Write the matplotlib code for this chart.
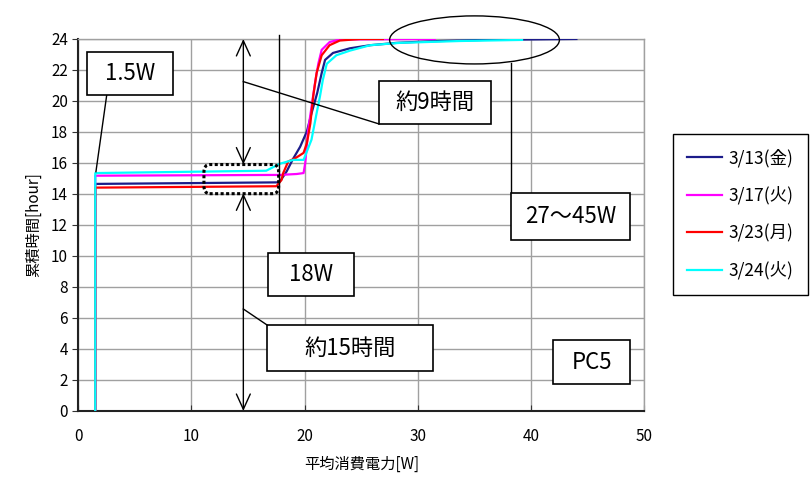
import matplotlib
matplotlib.use('Agg')
import matplotlib.pyplot as plt
from matplotlib.patches import Rectangle, Ellipse, FancyBboxPatch

plt.rcParams['font.family'] = ['Noto Sans CJK JP', 'DejaVu Sans']

#%% data: average power [W] vs cumulative hours, PC5

labels = ['3/13(金)', '3/17(火)', '3/23(月)', '3/24(火)']
colors = ['#1c1c8a', '#ff00ff', '#ff0000', '#00ffff']

w_0313 = [1.5, 1.5, 17.7, 17.9, 18.4, 19.0, 19.6, 20.2, 20.6, 21.1, 21.5, 21.8, 22.5, 24.0, 25.8, 28.1, 31.0, 35.8, 40.0, 44.0]
h_0313 = [0, 14.65, 14.75, 14.9, 15.45, 16.3, 17.05, 18.05, 19.2, 20.5, 21.8, 22.65, 23.1, 23.4, 23.6, 23.75, 23.85, 23.94, 23.97, 24.0]

w_0317 = [1.5, 1.5, 17.8, 19.3, 19.9, 20.05, 20.3, 20.6, 20.9, 21.2, 21.5, 22.2, 23.1, 31.5]
h_0317 = [0, 15.18, 15.23, 15.29, 15.35, 16.0, 18.1, 19.6, 21.1, 22.4, 23.3, 23.8, 23.97, 24.0]

w_0323 = [1.5, 1.5, 17.5, 17.95, 18.1, 18.55, 19.15, 19.9, 20.2, 20.5, 20.75, 21.05, 21.5, 22.2, 23.1, 24.9, 26.9]
h_0323 = [0, 14.41, 14.5, 14.9, 15.35, 16.1, 16.3, 16.65, 17.3, 18.55, 20.3, 21.8, 22.95, 23.6, 23.9, 24.0, 24.0]

w_0324 = [1.5, 1.5, 16.6, 17.8, 19.0, 19.9, 20.6, 21.05, 21.35, 21.6, 21.95, 22.8, 24.0, 25.8, 28.4, 33.7, 39.2]
h_0324 = [0, 15.35, 15.5, 15.95, 16.2, 16.2, 17.5, 19.2, 20.3, 21.35, 22.4, 22.95, 23.25, 23.6, 23.75, 23.87, 23.94]

series_w = [w_0313, w_0317, w_0323, w_0324]
series_h = [h_0313, h_0317, h_0323, h_0324]

#%% plot

fig = plt.figure(figsize=(8.12, 4.79), dpi=100)
ax = fig.add_axes([0.0964, 0.142, 0.6971, 0.7766])

for w, h, c, lab in zip(series_w, series_h, colors, labels):
    ax.plot(w, h, color=c, lw=1.6, label=lab, zorder=3)

ax.set_xlim(0, 50)
ax.set_ylim(0, 24)
ax.set_xticks(range(0, 51, 10))
ax.set_yticks(range(0, 25, 2))
ax.grid(True, color='#a0a0a0', lw=1)
ax.set_axisbelow(True)
ax.tick_params(axis='both', labelsize=11, length=4, color='#333333')
ax.tick_params(axis='x', direction='in', pad=12)
ax.tick_params(axis='y', direction='out')
for s in ['left', 'bottom']:
    ax.spines[s].set_color('#222222')
    ax.spines[s].set_linewidth(1.5)
for s in ['top', 'right']:
    ax.spines[s].set_color('#a0a0a0')
    ax.spines[s].set_linewidth(1)
ax.set_xlabel('平均消費電力[W]', fontsize=11, labelpad=8)
ax.set_ylabel('累積時間[hour]', fontsize=11, labelpad=6)


def box(x0, x1, y0, y1, txt, fs=16):
    ax.add_patch(Rectangle((x0, y0), x1 - x0, y1 - y0, facecolor='white',
                           edgecolor='black', lw=1.2, zorder=5))
    ax.text((x0 + x1) / 2, (y0 + y1) / 2, txt, ha='center', va='center',
            fontsize=fs, zorder=6)


def seg(x, y):
    ax.plot(x, y, color='black', lw=1, zorder=4, clip_on=False)


# text boxes with leader lines
box(0.8, 8.4, 20.37, 23.14, '1.5W')
seg([2.51, 1.56], [20.37, 15.44])

box(26.56, 36.45, 18.52, 21.29, '約9時間')
seg([14.58, 26.56], [21.25, 18.52])

box(16.76, 24.35, 7.42, 10.19, '18W')
seg([17.76, 17.76], [24.25, 10.19])

box(16.67, 31.33, 2.58, 5.55, '約15時間')
seg([14.58, 16.67], [6.58, 5.55])

box(38.2, 48.74, 11.03, 14.05, '27〜45W')
seg([38.2, 38.2], [22.47, 14.05])

box(41.93, 48.74, 1.74, 4.58, 'PC5')

ax.add_patch(Ellipse((35.0, 23.94), 15.0, 3.1, fill=False, edgecolor='black',
                     lw=1, zorder=4, clip_on=False))

# double arrows for the durations
arrow = dict(arrowstyle='<->,head_length=1.1,head_width=0.5', color='black',
             lw=1, shrinkA=0, shrinkB=0, mutation_scale=10)
ax.annotate('', xy=(14.58, 24.0), xytext=(14.58, 15.9), arrowprops=arrow, zorder=4)
ax.annotate('', xy=(14.58, 14.04), xytext=(14.58, 0.0), arrowprops=arrow, zorder=4)

# dotted frame around the standby plateau
ax.add_patch(FancyBboxPatch((11.1, 14.02), 6.6, 1.88,
                            boxstyle='round,pad=0,rounding_size=0.5',
                            fill=False, edgecolor='black', lw=2.2,
                            linestyle=(0, (1, 0.8)), zorder=4))

leg = fig.legend(loc='upper left', bbox_to_anchor=(672.7 / 812, 1 - 134 / 479),
                 fontsize=12.5, frameon=True, fancybox=False, framealpha=1,
                 edgecolor='black', borderpad=0.85, labelspacing=1.1,
                 handlelength=2.0, handletextpad=0.35, borderaxespad=0)
leg.get_frame().set_linewidth(1.0)

fig.savefig('out.png', dpi=100)
